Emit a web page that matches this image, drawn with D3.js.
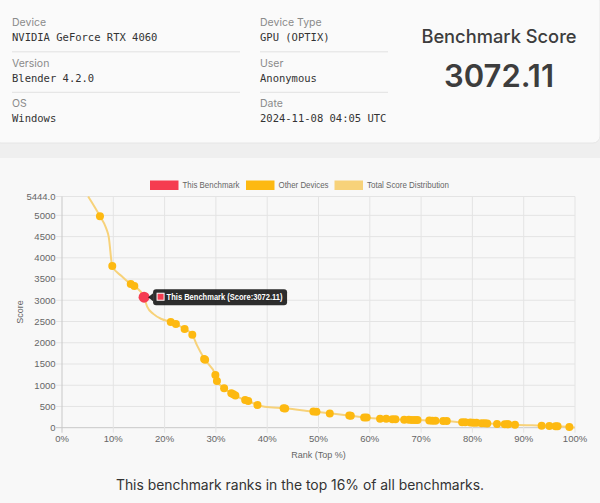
<!DOCTYPE html>
<html>
<head>
<meta charset="utf-8">
<script src="https://cdn.jsdelivr.net/npm/d3@7"></script>
<style>
  html, body { margin: 0; padding: 0; }
  body { width: 600px; height: 503px; background: #f0f0f0; overflow: hidden; font-family: Inter, "Noto Sans", sans-serif; }
  svg { display: block; }
</style>
</head>
<body>
<svg id="chart" width="600" height="503"></svg>
<script>
// ---- header info ----
const infoLabels = ["Device", "Version", "OS", "Device Type", "User", "Date"];
const infoValues = ["NVIDIA GeForce RTX 4060", "Blender 4.2.0", "Windows", "GPU (OPTIX)", "Anonymous", "2024-11-08 04:05 UTC"];
const scoreTitle = "Benchmark Score";
const scoreValue = "3072.11";

// ---- chart data ----
const legendLabels = ["This Benchmark", "Other Devices", "Total Score Distribution"];
const yMax = 5444;
const yTicks = [0, 500, 1000, 1500, 2000, 2500, 3000, 3500, 4000, 4500, 5000];
const xTicks = [0, 10, 20, 30, 40, 50, 60, 70, 80, 90, 100];

const thisRank = 16;
const thisScore = 3072.11;

// distribution curve (rank %, score)
const distRank  = [5.1, 7.4, 8.6, 9.1, 9.8, 11.6, 13.4, 14.1, 16, 16.6, 17.8, 19.4, 21.2, 22.2, 23.9, 25.4, 26.3, 27.8, 29.9, 30.2, 31.6, 33.0, 33.8, 35.7, 36.3, 38.1, 39.5, 43.3, 49.2, 52.2, 56.1, 59.0, 62.0, 64.6, 66.7, 69.1, 71.6, 74.9, 78.0, 80.2, 82.5, 84.8, 87.0, 88.3, 93.5, 96.4, 98.9, 100];
const distScore = [5444, 4980, 4700, 4500, 3810, 3570, 3385, 3335, 3072, 2850, 2680, 2560, 2490, 2440, 2325, 2190, 1945, 1610, 1240, 1100, 930, 810, 760, 650, 630, 535, 495, 458, 378, 338, 282, 240, 210, 198, 188, 182, 167, 158, 128, 118, 103, 88, 80, 72, 48, 34, 15, 5];

// other devices (rank %, score)
const otherRank  = [7.4, 9.8, 13.4, 14.1, 21.2, 22.2, 23.9, 25.4, 27.7, 27.9, 29.9, 30.2, 31.6, 33.0, 33.4, 33.8, 35.7, 36.3, 38.1, 43.2, 43.5, 49.0, 49.6, 52.2, 56.0, 56.3, 58.9, 59.4, 62.0, 63.2, 64.4, 65.0, 66.7, 67.6, 68.2, 68.8, 69.3, 71.6, 72.2, 72.8, 74.3, 75.0, 78.0, 78.6, 79.6, 80.2, 80.8, 81.8, 82.4, 82.9, 84.8, 86.3, 86.8, 87.0, 88.3, 93.5, 95.0, 96.2, 96.6, 98.9];
const otherScore = [4980, 3810, 3385, 3335, 2490, 2440, 2325, 2190, 1620, 1600, 1240, 1100, 930, 810, 790, 760, 650, 630, 535, 460, 455, 380, 375, 335, 285, 280, 240, 238, 210, 208, 200, 198, 188, 185, 184, 183, 182, 168, 166, 165, 160, 158, 128, 126, 120, 118, 115, 105, 103, 100, 88, 82, 80, 80, 72, 48, 42, 35, 34, 15];

const rankText = "This benchmark ranks in the top 16% of all benchmarks.";

// ---- colors ----
const cRed = "#f53c50";
const cOther = "#fdb911";
const cDist = "#f7d27a";

const svg = d3.select("#chart");

// backgrounds
svg.append("rect").attr("x", 0).attr("y", 0).attr("width", 600).attr("height", 503).attr("fill", "#efefef");
svg.append("rect").attr("x", 0).attr("y", 158).attr("width", 600).attr("height", 345).attr("fill", "#f8f8f8");
svg.append("rect").attr("x", -6).attr("y", -6).attr("width", 606).attr("height", 149).attr("rx", 7).attr("fill", "#fafafa")
  .attr("stroke", "#e6e6e6").attr("stroke-width", 1);

// header info
const cols = [{x: 12, w: 228}, {x: 260, w: 128}];
infoLabels.forEach((lab, i) => {
  const c = cols[Math.floor(i / 3)];
  const r = i % 3;
  const y0 = 22.5 + r * 40.5;
  svg.append("text").attr("x", c.x).attr("y", y0).attr("dy", "0.35em")
    .attr("font-size", 10.5).attr("fill", "#8a8a8a").attr("font-family", "Inter, 'Liberation Sans', sans-serif").text(lab);
  svg.append("text").attr("x", c.x).attr("y", y0 + 15.2).attr("dy", "0.35em")
    .attr("font-size", 10.5).attr("fill", "#333").attr("font-family", "'DejaVu Sans Mono', 'Liberation Mono', monospace").text(infoValues[i]);
  if (r < 2) {
    svg.append("line").attr("x1", c.x).attr("x2", c.x + c.w).attr("y1", y0 + 29.3).attr("y2", y0 + 29.3)
      .attr("stroke", "#e2e2e2").attr("stroke-width", 1);
  }
});
svg.append("text").attr("x", 499).attr("y", 37).attr("dy", "0.35em").attr("text-anchor", "middle")
  .attr("font-size", 18.3).attr("font-weight", 500).attr("fill", "#3d3d3d").attr("font-family", "Inter, 'Liberation Sans', sans-serif").text(scoreTitle);
svg.append("text").attr("x", 499).attr("y", 76).attr("dy", "0.35em").attr("text-anchor", "middle")
  .attr("font-size", 31).attr("font-weight", 600).attr("fill", "#3d3d3d").attr("font-family", "Inter, 'Liberation Sans', sans-serif").text(scoreValue);

// ---- chart ----
const pLeft = 62, pRight = 575, pTop = 196.5, pBottom = 427.7;
const x = d3.scaleLinear().domain([0, 100]).range([pLeft, pRight]);
const y = d3.scaleLinear().domain([0, yMax]).range([pBottom, pTop]);

const g = svg.append("g");
const font = "'Liberation Sans', Arial, sans-serif";

// grid
const allY = yTicks.concat([yMax]);
g.selectAll(".hg").data(allY).enter().append("line")
  .attr("x1", pLeft - 6).attr("x2", pRight).attr("y1", d => y(d)).attr("y2", d => y(d))
  .attr("stroke", d => d === 0 ? "#c8c8c8" : "#e4e4e4").attr("stroke-width", 1);
g.selectAll(".vg").data(xTicks).enter().append("line")
  .attr("y1", pTop).attr("y2", pBottom + 5).attr("x1", d => x(d)).attr("x2", d => x(d))
  .attr("stroke", d => d === 0 ? "#c8c8c8" : "#e4e4e4").attr("stroke-width", 1);

// y tick labels
g.selectAll(".yl").data(allY).enter().append("text")
  .attr("x", 55.5).attr("y", d => y(d)).attr("dy", "0.35em").attr("text-anchor", "end")
  .attr("font-size", 9.5).attr("fill", "#666").attr("font-family", font)
  .text(d => d === yMax ? d3.format(".1f")(d) : d);
// x tick labels
g.selectAll(".xl").data(xTicks).enter().append("text")
  .attr("x", d => x(d)).attr("y", 439).attr("dy", "0.35em").attr("text-anchor", "middle")
  .attr("font-size", 9.5).attr("fill", "#666").attr("font-family", font)
  .text(d => d + "%");

// axis titles
g.append("text").attr("x", (pLeft + pRight) / 2).attr("y", 455).attr("dy", "0.35em").attr("text-anchor", "middle")
  .attr("font-size", 9).attr("fill", "#666").attr("font-family", font).text("Rank (Top %)");
g.append("text").attr("transform", `translate(20,${(pTop + pBottom) / 2}) rotate(-90)`).attr("dy", "0.35em").attr("text-anchor", "middle")
  .attr("font-size", 9).attr("fill", "#666").attr("font-family", font).text("Score");

// distribution line
const distData = distRank.map((r, i) => [r, distScore[i]]);
const line = d3.line().x(d => x(d[0])).y(d => y(d[1])).curve(d3.curveMonotoneX);
g.append("path").datum(distData).attr("d", line).attr("fill", "none")
  .attr("stroke", cDist).attr("stroke-width", 2);

// other devices
const otherData = otherRank.map((r, i) => [r, otherScore[i]]);
g.selectAll(".od").data(otherData).enter().append("circle")
  .attr("cx", d => x(d[0])).attr("cy", d => y(d[1])).attr("r", 4)
  .attr("fill", cOther);

// this benchmark
g.append("circle").attr("cx", x(thisRank)).attr("cy", y(thisScore)).attr("r", 5.5).attr("fill", cRed);

// tooltip
const tx = x(thisRank) + 4, ty = y(thisScore);
const tip = g.append("g");
tip.append("path")
  .attr("d", `M${tx},${ty} L${tx + 5},${ty - 4} L${tx + 5},${ty + 4} Z`).attr("fill", "rgba(0,0,0,0.82)");
tip.append("rect").attr("x", tx + 5).attr("y", ty - 8).attr("width", 134).attr("height", 16).attr("rx", 3)
  .attr("fill", "rgba(0,0,0,0.82)");
tip.append("rect").attr("x", tx + 9).attr("y", ty - 4).attr("width", 7).attr("height", 7)
  .attr("fill", cRed).attr("stroke", "#fff").attr("stroke-width", 1);
tip.append("text").attr("x", tx + 18.5).attr("y", ty).attr("dy", "0.35em")
  .attr("font-size", 9).attr("font-weight", "bold").attr("fill", "#fff").attr("font-family", font)
  .attr("textLength", 116).attr("lengthAdjust", "spacingAndGlyphs")
  .text(`This Benchmark (Score:${thisScore})`);

// legend
const legendX = [150, 246, 334.5];
const legendTextW = [57, 50, 82];
const legendColors = [cRed, cOther, cDist];
legendLabels.forEach((lab, i) => {
  g.append("rect").attr("x", legendX[i]).attr("y", 180.5).attr("width", 28.5).attr("height", 9.5).attr("fill", legendColors[i]);
  g.append("text").attr("x", legendX[i] + 32.5).attr("y", 185.3).attr("dy", "0.35em")
    .attr("font-size", 9).attr("fill", "#666").attr("font-family", font)
    .attr("textLength", legendTextW[i]).attr("lengthAdjust", "spacingAndGlyphs").text(lab);
});

// bottom text
svg.append("text").attr("x", 300).attr("y", 485).attr("dy", "0.35em").attr("text-anchor", "middle")
  .attr("font-size", 13.9).attr("fill", "#333").attr("font-family", "Inter, 'Liberation Sans', sans-serif").text(rankText);
</script>
</body>
</html>
